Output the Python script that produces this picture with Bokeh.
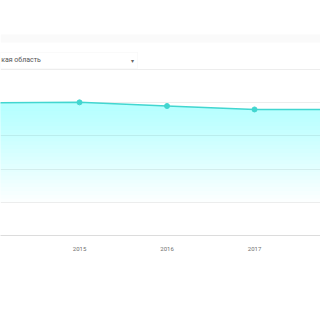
import numpy as np
from bokeh.plotting import figure
from bokeh.models import Range1d, BoxAnnotation, Label, FixedTicker
from bokeh.embed import file_html
from bokeh.resources import INLINE

years = [2014, 2015, 2016, 2017, 2018]
values = [2000, 2005, 1950, 1898, 1895]
tick_years = [2015, 2016, 2017]
region_label = "кая область"

p = figure(width=320, height=320, output_backend="svg", toolbar_location=None,
           x_range=Range1d(2014.097, 2017.754), y_range=Range1d(0, 3539),
           min_border_left=0, min_border_right=0, min_border_top=0, min_border_bottom=85,
           outline_line_color=None, background_fill_color="white", border_fill_color="white")

p.yaxis.visible = False
p.xaxis.ticker = FixedTicker(ticks=tick_years)
p.xaxis.major_label_overrides = {y: str(y) for y in tick_years}
p.xaxis.axis_line_color = "#dcdcdc"
p.xaxis.axis_line_width = 1
p.xaxis.major_tick_line_color = None
p.xaxis.minor_tick_line_color = None
p.xaxis.major_label_text_font = "Roboto"
p.xaxis.major_label_text_font_size = "6px"
p.xaxis.major_label_text_color = "#707070"
p.xaxis.major_label_standoff = 5
p.xgrid.grid_line_color = None
p.ygrid.ticker = FixedTicker(ticks=[500, 1000, 1500, 2000, 2500])
p.ygrid.grid_line_color = "#ededed"
p.ygrid.grid_line_width = 1

# faint header shadow band and dropdown
p.add_layout(BoxAnnotation(top=3539 - 34 * 15.06, bottom=3539 - 42 * 15.06,
                           fill_color="#fafafa", fill_alpha=1.0, line_color=None))
p.add_layout(BoxAnnotation(right=2015.663, top=2756, bottom=2515,
                           fill_color="white", fill_alpha=1.0,
                           line_color="#efefef", line_width=1))
p.add_layout(Label(x=2014.105, y=2636, text=region_label, text_align="left",
                   text_baseline="middle", text_font="Roboto", text_font_size="7px",
                   text_color="#555555"))
p.add_layout(Label(x=2015.606, y=2636, text="▾", text_align="center",
                   text_baseline="middle", text_font="DejaVu Sans", text_font_size="6px",
                   text_color="#666666"))

# gradient-like area fill built from stacked translucent layers
n_layers = 25
levels = np.linspace(500, 1880, n_layers)
for lv in levels:
    p.varea(x=years, y1=[lv] * len(years), y2=values,
            fill_color="#55eeea", fill_alpha=0.017)

p.line(years, values, line_color="#42d6d0", line_width=1.5)
p.scatter(years, values, size=5, fill_color="#42d6d0", line_color="#42d6d0")

open("out.html", "w").write(file_html(p, INLINE))
